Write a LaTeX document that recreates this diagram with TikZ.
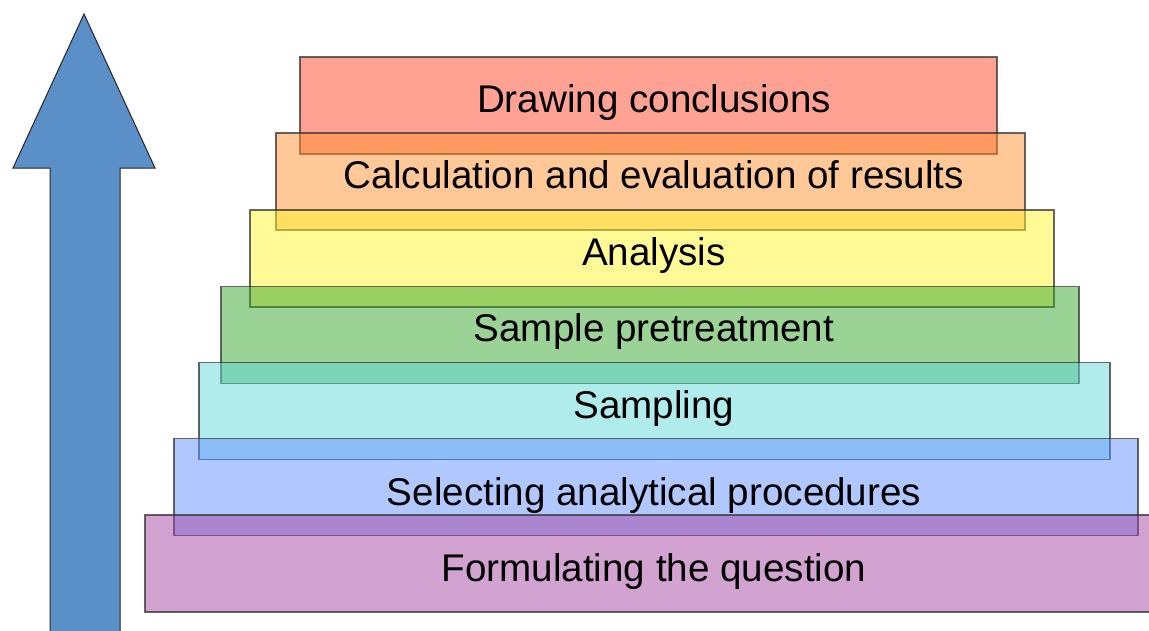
\documentclass[tikz,border=0pt]{standalone}
\usepackage{fontspec}
\setmainfont{Liberation Sans}
\definecolor{stepred}{RGB}{255,69,41}
\definecolor{steporange}{RGB}{255,145,45}
\definecolor{stepyellow}{RGB}{255,245,45}
\definecolor{stepgreen}{RGB}{55,165,45}
\definecolor{stepcyan}{RGB}{97,217,217}
\definecolor{stepblue}{RGB}{97,145,255}
\definecolor{steppurple}{RGB}{165,69,161}
\definecolor{arrowblue}{RGB}{91,143,199}
\begin{document}
\begin{tikzpicture}
        [x=1pt,y=-1pt,
         layer/.style={draw=black!80,draw opacity=0.75,line width=1.3pt,
           fill opacity=0.5,minimum height=97pt,inner sep=0pt},
         steptext/.style={anchor=base,inner sep=0pt,font=\fontsize{38.6}{44}\selectfont}]
        \useasboundingbox (0,0) rectangle (1149,630);
        % upward arrow
        \draw[fill=arrowblue,draw=black!85,line width=1pt] (50,632) -- (50,168) -- (13,168)
          -- (84,14) -- (155,168) -- (120,168) -- (120,632);
        % the seven steps, bottom one last
        \node[layer,fill=stepred,minimum width=697pt] (conclusions) at (648.5,105.5) {};
        \node[layer,fill=steporange,minimum width=749pt] (calculation) at (650.5,181.5) {};
        \node[layer,fill=stepyellow,minimum width=804pt] (analysis) at (652,258.5) {};
        \node[layer,fill=stepgreen,minimum width=858pt] (pretreatment) at (650,335) {};
        \node[layer,fill=stepcyan,minimum width=911pt] (sampling) at (654.5,411) {};
        \node[layer,fill=stepblue,minimum width=964pt] (selecting) at (656,487) {};
        \node[layer,fill=steppurple,minimum width=1015pt] (question) at (652.5,563.5) {};
        % labels
        \node[steptext] (conclusions text) at (654,112) {Drawing conclusions};
        \node[steptext] (calculation text) at (654,188) {Calculation and evaluation of results};
        \node[steptext] (analysis text) at (654,265) {Analysis};
        \node[steptext] (pretreatment text) at (654,341) {Sample pretreatment};
        \node[steptext] (sampling text) at (654,418) {Sampling};
        \node[steptext] (selecting text) at (654,505) {Selecting analytical procedures};
        \node[steptext] (question text) at (654,581) {Formulating the question};
      \end{tikzpicture}
\end{document}
